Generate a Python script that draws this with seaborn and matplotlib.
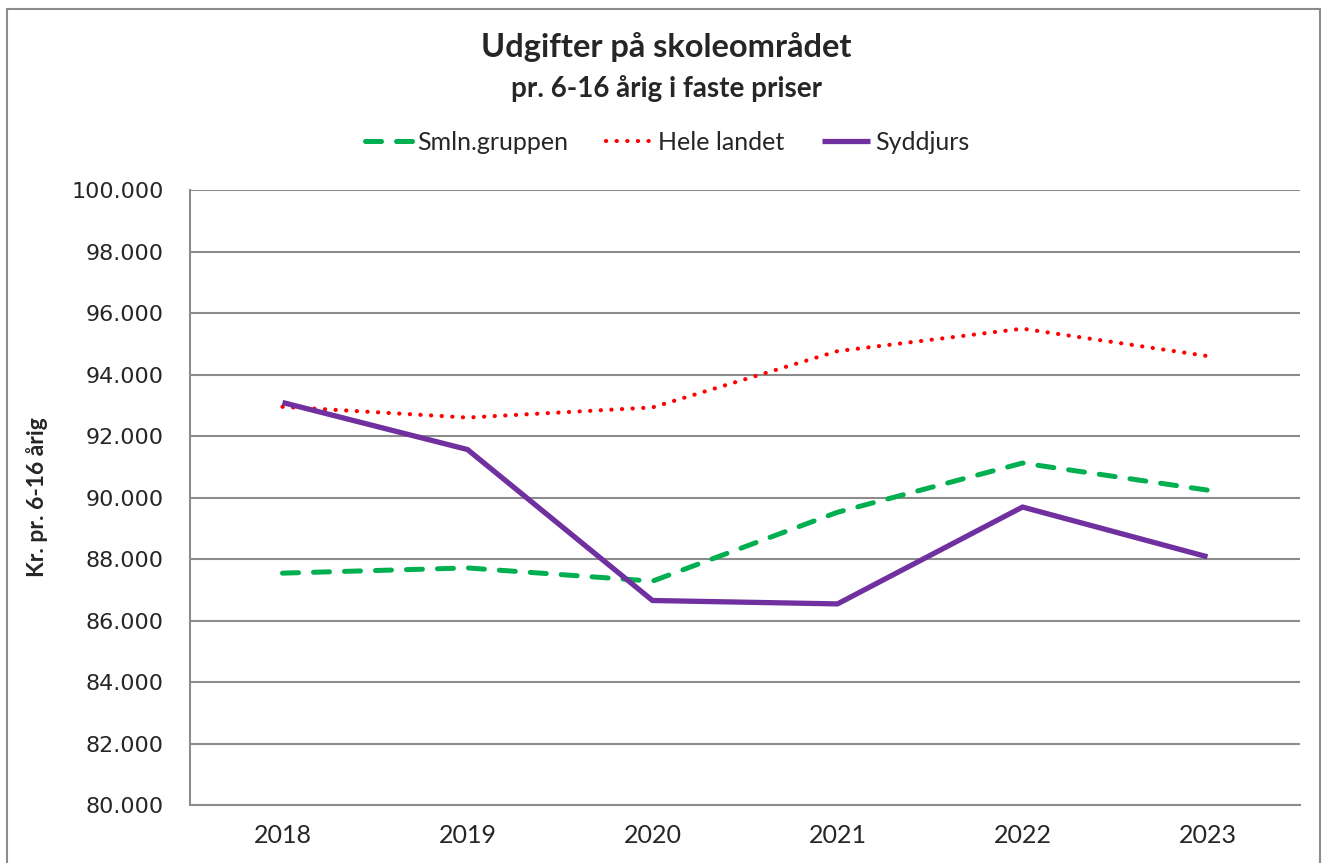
import matplotlib
matplotlib.use("Agg")
from matplotlib import pyplot as plt
from matplotlib.patches import Rectangle
import seaborn as sns
import pandas as pd

years = [2018, 2019, 2020, 2021, 2022, 2023]
smln_gruppen = [87540, 87710, 87280, 89520, 91120, 90240]
hele_landet = [92950, 92600, 92930, 94760, 95490, 94600]
syddjurs = [93090, 91560, 86650, 86540, 89690, 88070]
yticks = list(range(80000, 100001, 2000))

df = pd.DataFrame({"År": years, "Smln.gruppen": smln_gruppen,
                   "Hele landet": hele_landet, "Syddjurs": syddjurs})

sns.set_style("white")
plt.rcParams['font.family'] = ['Lato', 'DejaVu Sans']

fig = plt.figure(figsize=(13.25, 8.63), dpi=100)
ax = fig.add_axes([190 / 1325, 58 / 863, 1110 / 1325, 615 / 863])

grid_col = '#8c8c8c'

sns.lineplot(data=df, x="År", y="Smln.gruppen", ax=ax, color='#00B050',
             linewidth=3.6, label="Smln.gruppen")
ax.lines[-1].set_dashes((3.2, 3.0))
ax.lines[-1].set_dash_capstyle('round')
sns.lineplot(data=df, x="År", y="Hele landet", ax=ax, color='#FF0000',
             linewidth=3.0, label="Hele landet")
ax.lines[-1].set_dashes((0.05, 2.5))
ax.lines[-1].set_dash_capstyle('round')
sns.lineplot(data=df, x="År", y="Syddjurs", ax=ax, color='#7030A0',
             linewidth=3.8, label="Syddjurs")
ax.lines[-1].set_solid_capstyle('butt')

handles, labels = ax.get_legend_handles_labels()
ax.get_legend().remove()

ax.set_xlim(2017.5, 2023.5)
ax.set_ylim(80000, 100000)
ax.set_xticks(years)
ax.set_xticklabels([str(y) for y in years], fontsize=18)
ax.set_yticks(yticks)
ax.set_yticklabels([f"{v:,}".replace(",", ".") for v in yticks],
                   fontsize=16, family=['DejaVu Sans'])
ax.tick_params(axis='y', length=0, pad=19)
ax.tick_params(axis='x', length=0, pad=14)
ax.yaxis.grid(True, color=grid_col, linewidth=1.5)
ax.set_axisbelow(True)
for side in ['top', 'right']:
    ax.spines[side].set_visible(False)
for side in ['left', 'bottom']:
    ax.spines[side].set_color(grid_col)
    ax.spines[side].set_linewidth(1.5)

ax.set_xlabel("")
ax.set_ylabel("Kr. pr. 6-16 årig", fontsize=16.5, fontweight='bold')
ax.yaxis.set_label_coords(-0.128, 0.5)

fig.text(0.503, 1 - 47 / 863, "Udgifter på skoleområdet", ha='center', va='center',
         fontsize=23.5, fontweight='bold')
fig.text(0.503, 1 - 88 / 863, "pr. 6-16 årig i faste priser", ha='center', va='center',
         fontsize=20, fontweight='bold')

fig.legend(handles, labels, loc='center', bbox_to_anchor=(667 / 1325, 1 - 142 / 863),
           ncol=3, frameon=False, fontsize=18, handlelength=1.9,
           handletextpad=0.2, columnspacing=1.5)

fig.patches.append(Rectangle((7 / 1325, -0.1), 1313 / 1325, 1.1 - 9 / 863,
                             transform=fig.transFigure, fill=False,
                             edgecolor='#8c8c8c', linewidth=1.5))

fig.savefig("out.png", dpi=100)
